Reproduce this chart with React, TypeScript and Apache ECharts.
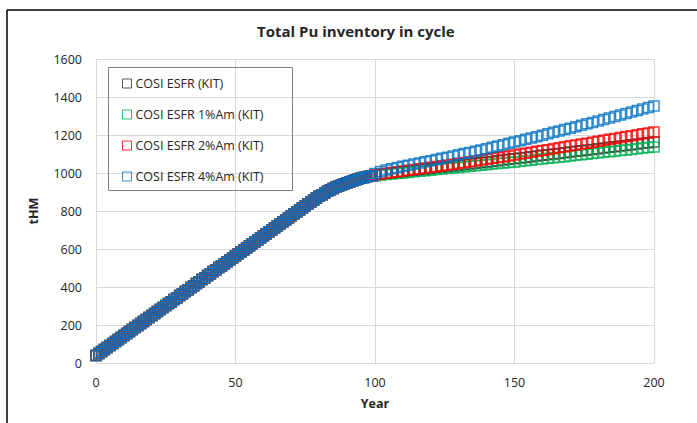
import React, { useEffect, useRef } from "react";
import * as echarts from "echarts";

// Shared inventory (tHM) before the curves separate, one value per year 0..99
const earlyValues = [
  40, 50, 60, 71, 82, 92, 103, 113, 124, 134,
  145, 155, 166, 176, 187, 197, 208, 218, 229, 239,
  250, 260, 271, 281, 292, 302, 313, 323, 334, 344,
  355, 365, 376, 386, 397, 407, 418, 428, 439, 449,
  460, 470, 481, 491, 502, 512, 523, 533, 544, 554,
  565, 575, 586, 596, 607, 617, 628, 638, 649, 659,
  670, 680, 691, 701, 712, 722, 733, 743, 754, 764,
  775, 785, 796, 806, 817, 827, 838, 848, 858, 868,
  877, 886, 895, 904, 912, 919, 926, 932, 938, 944,
  949, 954, 959, 964, 968, 972, 976, 980, 983, 986,
];

// Years after separation (every 2 years, 100..200)
const lateYears = [100,102,104,106,108,110,112,114,116,118,120,122,124,126,128,130,132,134,136,138,140,142,144,146,148,150,152,154,156,158,160,162,164,166,168,170,172,174,176,178,180,182,184,186,188,190,192,194,196,198,200];

const cosiLate = [988,992,996,999,1002,1005,1009,1012,1016,1019,1023,1026,1030,1033,1037,1040,1044,1047,1051,1054,1058,1061,1065,1068,1072,1075,1079,1082,1086,1089,1093,1096,1100,1103,1107,1110,1114,1117,1121,1124,1128,1131,1135,1138,1142,1145,1149,1152,1156,1159,1163];
const am1Late = [985,989,992,995,998,1000,1003,1006,1009,1012,1015,1018,1021,1024,1026,1029,1032,1035,1038,1041,1044,1047,1050,1053,1055,1058,1061,1064,1067,1071,1074,1077,1080,1083,1086,1090,1093,1096,1099,1102,1105,1109,1112,1115,1118,1121,1124,1128,1131,1134,1137];
const am2Late = [990,995,999,1003,1007,1010,1014,1018,1022,1026,1030,1034,1038,1042,1046,1051,1055,1059,1063,1068,1072,1077,1081,1086,1090,1095,1100,1104,1109,1114,1119,1123,1128,1133,1138,1143,1148,1152,1157,1162,1167,1172,1177,1182,1187,1192,1196,1201,1206,1211,1216];
const am4Late = [998,1008,1016,1023,1029,1035,1041,1047,1053,1059,1065,1071,1077,1083,1090,1096,1102,1108,1115,1121,1128,1135,1142,1149,1156,1163,1170,1177,1184,1191,1199,1206,1214,1221,1229,1236,1244,1251,1259,1266,1274,1282,1289,1297,1305,1313,1321,1329,1337,1345,1353];

const seriesNames = ["COSI ESFR (KIT)", "COSI ESFR 1%Am (KIT)", "COSI ESFR 2%Am (KIT)", "COSI ESFR 4%Am (KIT)"];
const seriesColors = ["#303030", "#00b050", "#ff0000", "#0070c0"];
const seriesLate = [cosiLate, am1Late, am2Late, am4Late];

const yTicks = [0, 200, 400, 600, 800, 1000, 1200, 1400, 1600];
const xTicks = [0, 50, 100, 150, 200];

const FONT = "'Open Sans', Lato, sans-serif";
const TXT = "#262626";

export default function App() {
  const ref = useRef<HTMLDivElement>(null);
  useEffect(() => {
    if (!ref.current) return;
    const chart = echarts.init(ref.current, null, { renderer: "svg" });
    const series = seriesNames.map((name, i) => {
      const pts: number[][] = [];
      earlyValues.forEach((v, year) => pts.push([year, v]));
      lateYears.forEach((y, k) => pts.push([y, seriesLate[i][k]]));
      return {
        name,
        type: "scatter",
        data: pts,
        symbol: "rect",
        symbolSize: 10,
        itemStyle: { color: "rgba(0,0,0,0)", borderColor: seriesColors[i], borderWidth: 1.5 },
        emphasis: { disabled: true },
      };
    });
    chart.setOption({
      animation: false,
      backgroundColor: "#ffffff",
      textStyle: { fontFamily: FONT },
      grid: { left: 96, right: 43, top: 59, bottom: 60, containLabel: false },
      xAxis: {
        type: "value",
        min: xTicks[0],
        max: xTicks[xTicks.length - 1],
        interval: 50,
        name: "Year",
        nameLocation: "middle",
        nameGap: 34,
        nameTextStyle: { fontFamily: FONT, fontWeight: "bold", fontSize: 12.5, color: TXT },
        axisLine: { show: true, lineStyle: { color: "#d9d9d9", width: 1 } },
        axisTick: { show: false },
        axisLabel: { margin: 13, fontSize: 12.5, color: TXT, fontFamily: FONT },
        splitLine: { show: true, lineStyle: { color: "#d9d9d9", width: 1 } },
      },
      yAxis: {
        type: "value",
        min: yTicks[0],
        max: yTicks[yTicks.length - 1],
        interval: 200,
        name: "tHM",
        nameLocation: "middle",
        nameGap: 56,
        nameRotate: 90,
        nameTextStyle: { fontFamily: FONT, fontWeight: "bold", fontSize: 12.5, color: TXT },
        axisLine: { show: false },
        axisTick: { show: false },
        axisLabel: { margin: 14, fontSize: 12.5, color: TXT, fontFamily: FONT, formatter: (v: number) => String(v) },
        splitLine: { show: true, lineStyle: { color: "#d9d9d9", width: 1 } },
      },
      legend: {
        orient: "vertical",
        left: 108,
        top: 67,
        padding: [10, 14, 10, 14],
        itemWidth: 9,
        itemHeight: 9,
        itemGap: 18,
        borderWidth: 0,
        textStyle: { fontFamily: FONT, fontSize: 12.5, color: TXT, padding: [0, 0, 0, -1] },
        data: seriesNames.map((n, i) => ({
          name: n,
          icon: "rect",
          itemStyle: { color: "rgba(0,0,0,0)", borderColor: seriesColors[i], borderWidth: 1 },
        })),
      },
      graphic: [
        { type: "line", shape: { x1: 7, y1: 10, x2: 697, y2: 10 }, style: { stroke: "#000", lineWidth: 1.5 } },
        { type: "line", shape: { x1: 7, y1: 10, x2: 7, y2: 423 }, style: { stroke: "#000", lineWidth: 1.5 } },
        { type: "rect", shape: { x: 108.5, y: 67.5, width: 184, height: 123 }, style: { fill: "none", stroke: "#7f7f7f", lineWidth: 1 }, z: 100 },
        {
          type: "text",
          x: 257,
          y: 31,
          style: { text: "Total Pu inventory in cycle", fontFamily: FONT, fontWeight: "bold", fontSize: 15, fill: TXT, textAlign: "left", textVerticalAlign: "middle" },
        },
      ],
      series,
    });
    return () => chart.dispose();
  }, []);
  return <div ref={ref} style={{ position: "fixed", left: 0, top: 0, width: 697, height: 423 }} />;
}
